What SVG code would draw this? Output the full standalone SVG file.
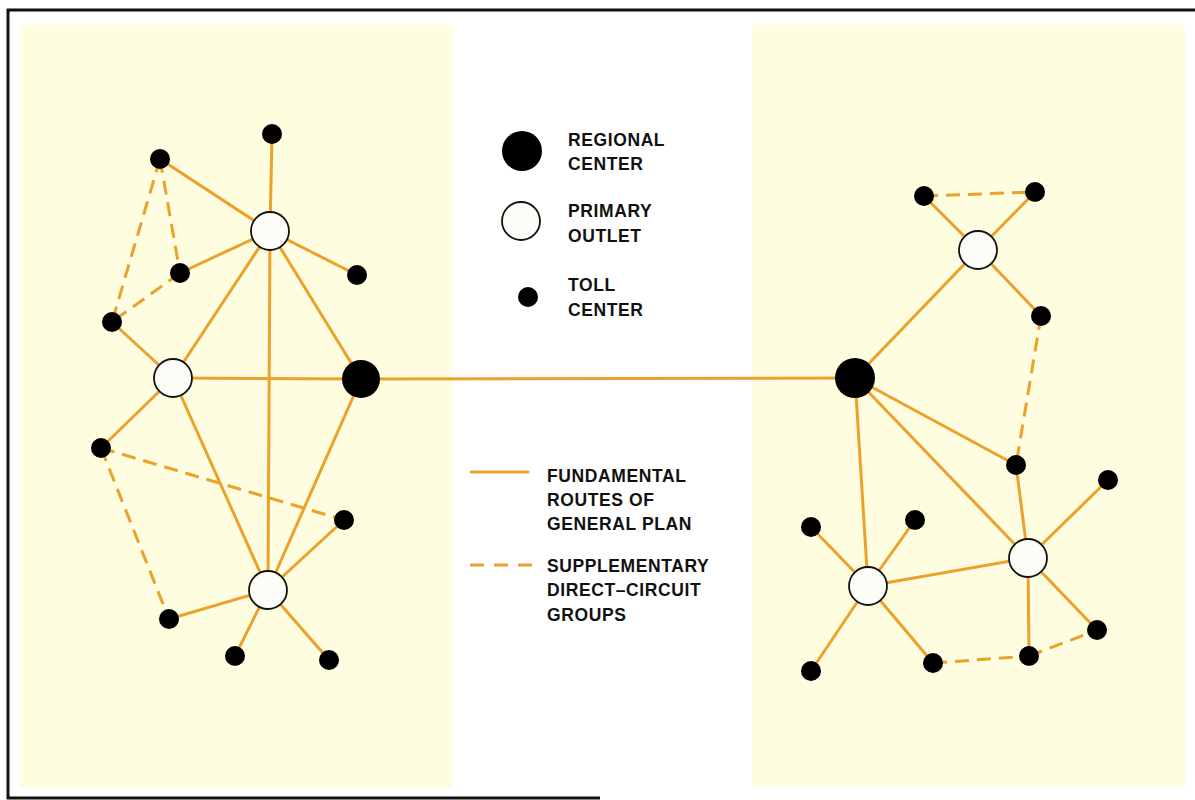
<svg xmlns="http://www.w3.org/2000/svg" width="1195" height="800" viewBox="0 0 1195 800">
<style>
.bg{fill:#ffffff}
.panel{fill:#fffde0}
.frame{stroke:#111;stroke-width:3;fill:none}
.solid{stroke:#eba12a;stroke-width:3;fill:none;stroke-linecap:round}
.dash{stroke:#eba12a;stroke-width:3;fill:none;stroke-dasharray:14 8}
.rc{fill:#000}
.po{fill:#fdfdf8;stroke:#111;stroke-width:1.8}
.tc{fill:#000}
.lbl{font-family:"Liberation Sans",Arial,sans-serif;font-size:17.5px;font-weight:bold;letter-spacing:0.6px;fill:#111}
</style>
<rect class="bg" x="0" y="0" width="1195" height="800"/>
<rect class="panel" x="20" y="25" width="432" height="763"/>
<rect class="panel" x="752" y="25" width="433" height="762"/>
<path class="frame" d="M1195 10 L8 10 L8 798 L600 798"/>

<g id="connectors">
  <!-- left solid -->
  <line class="solid" x1="272" y1="134" x2="270" y2="231"/>
  <line class="solid" x1="160" y1="159" x2="270" y2="231"/>
  <line class="solid" x1="180" y1="273" x2="270" y2="231"/>
  <line class="solid" x1="270" y1="231" x2="357" y2="275"/>
  <line class="solid" x1="270" y1="231" x2="173" y2="378"/>
  <line class="solid" x1="270" y1="231" x2="268" y2="590"/>
  <line class="solid" x1="270" y1="231" x2="361" y2="379"/>
  <line class="solid" x1="173" y1="378" x2="361" y2="379"/>
  <line class="solid" x1="112" y1="322" x2="173" y2="378"/>
  <line class="solid" x1="173" y1="378" x2="101" y2="448"/>
  <line class="solid" x1="173" y1="378" x2="268" y2="590"/>
  <line class="solid" x1="361" y1="379" x2="268" y2="590"/>
  <line class="solid" x1="344" y1="520" x2="268" y2="590"/>
  <line class="solid" x1="169" y1="619" x2="268" y2="590"/>
  <line class="solid" x1="268" y1="590" x2="235" y2="656"/>
  <line class="solid" x1="268" y1="590" x2="329" y2="660"/>
  <!-- trunk -->
  <line class="solid" x1="361" y1="379" x2="855" y2="378"/>
  <!-- left dashed -->
  <line class="dash" x1="160" y1="159" x2="180" y2="273"/>
  <line class="dash" x1="160" y1="159" x2="112" y2="322"/>
  <line class="dash" x1="180" y1="273" x2="112" y2="322"/>
  <line class="dash" x1="101" y1="448" x2="344" y2="520"/>
  <line class="dash" x1="101" y1="448" x2="169" y2="619"/>
  <!-- right solid -->
  <line class="solid" x1="924" y1="196" x2="978" y2="250"/>
  <line class="solid" x1="1035" y1="192" x2="978" y2="250"/>
  <line class="solid" x1="978" y1="250" x2="1041" y2="316"/>
  <line class="solid" x1="978" y1="250" x2="855" y2="378"/>
  <line class="solid" x1="855" y1="378" x2="1016" y2="465"/>
  <line class="solid" x1="855" y1="378" x2="1028" y2="558"/>
  <line class="solid" x1="855" y1="378" x2="868" y2="586"/>
  <line class="solid" x1="1016" y1="465" x2="1028" y2="558"/>
  <line class="solid" x1="1108" y1="480" x2="1028" y2="558"/>
  <line class="solid" x1="868" y1="586" x2="1028" y2="558"/>
  <line class="solid" x1="811" y1="527" x2="868" y2="586"/>
  <line class="solid" x1="915" y1="520" x2="868" y2="586"/>
  <line class="solid" x1="868" y1="586" x2="811" y2="671"/>
  <line class="solid" x1="868" y1="586" x2="933" y2="663"/>
  <line class="solid" x1="1028" y1="558" x2="1029" y2="656"/>
  <line class="solid" x1="1028" y1="558" x2="1097" y2="630"/>
  <!-- right dashed -->
  <line class="dash" x1="924" y1="196" x2="1035" y2="192"/>
  <line class="dash" x1="1041" y1="316" x2="1016" y2="465"/>
  <line class="dash" x1="933" y1="663" x2="1029" y2="656"/>
  <line class="dash" x1="1029" y1="656" x2="1097" y2="630"/>
</g>

<g id="left-regional-center"><circle class="rc" cx="361" cy="379" r="19"/></g>
<g id="left-primary-top"><circle class="po" cx="270" cy="231" r="19"/></g>
<g id="left-primary-mid"><circle class="po" cx="173" cy="378" r="19"/></g>
<g id="left-primary-bottom"><circle class="po" cx="268" cy="590" r="19"/></g>
<g id="left-toll-1"><circle class="tc" cx="272" cy="134" r="10"/></g>
<g id="left-toll-2"><circle class="tc" cx="160" cy="159" r="10"/></g>
<g id="left-toll-3"><circle class="tc" cx="180" cy="273" r="10"/></g>
<g id="left-toll-4"><circle class="tc" cx="357" cy="275" r="10"/></g>
<g id="left-toll-5"><circle class="tc" cx="112" cy="322" r="10"/></g>
<g id="left-toll-6"><circle class="tc" cx="101" cy="448" r="10"/></g>
<g id="left-toll-7"><circle class="tc" cx="344" cy="520" r="10"/></g>
<g id="left-toll-8"><circle class="tc" cx="169" cy="619" r="10"/></g>
<g id="left-toll-9"><circle class="tc" cx="235" cy="656" r="10"/></g>
<g id="left-toll-10"><circle class="tc" cx="329" cy="660" r="10"/></g>

<g id="right-regional-center"><circle class="rc" cx="855" cy="378" r="20"/></g>
<g id="right-primary-top"><circle class="po" cx="978" cy="250" r="19"/></g>
<g id="right-primary-left"><circle class="po" cx="868" cy="586" r="19"/></g>
<g id="right-primary-right"><circle class="po" cx="1028" cy="558" r="19"/></g>
<g id="right-toll-1"><circle class="tc" cx="924" cy="196" r="10"/></g>
<g id="right-toll-2"><circle class="tc" cx="1035" cy="192" r="10"/></g>
<g id="right-toll-3"><circle class="tc" cx="1041" cy="316" r="10"/></g>
<g id="right-toll-4"><circle class="tc" cx="1016" cy="465" r="10"/></g>
<g id="right-toll-5"><circle class="tc" cx="1108" cy="480" r="10"/></g>
<g id="right-toll-6"><circle class="tc" cx="811" cy="527" r="10"/></g>
<g id="right-toll-7"><circle class="tc" cx="915" cy="520" r="10"/></g>
<g id="right-toll-8"><circle class="tc" cx="811" cy="671" r="10"/></g>
<g id="right-toll-9"><circle class="tc" cx="933" cy="663" r="10"/></g>
<g id="right-toll-10"><circle class="tc" cx="1029" cy="656" r="10"/></g>
<g id="right-toll-11"><circle class="tc" cx="1097" cy="630" r="10"/></g>

<g id="legend">
  <circle class="rc" cx="522" cy="151" r="20"/>
  <text class="lbl" x="568" y="146">REGIONAL</text>
  <text class="lbl" x="568" y="170">CENTER</text>
  <circle class="po" cx="521" cy="221" r="19"/>
  <text class="lbl" x="568" y="217">PRIMARY</text>
  <text class="lbl" x="568" y="242">OUTLET</text>
  <circle class="tc" cx="528" cy="297" r="10"/>
  <text class="lbl" x="568" y="291">TOLL</text>
  <text class="lbl" x="568" y="316">CENTER</text>
  <line class="solid" x1="471" y1="472" x2="528" y2="472"/>
  <text class="lbl" x="547" y="482">FUNDAMENTAL</text>
  <text class="lbl" x="547" y="506">ROUTES OF</text>
  <text class="lbl" x="547" y="530">GENERAL PLAN</text>
  <line class="dash" x1="470" y1="565" x2="532" y2="565" style="stroke-dasharray:14 10"/>
  <text class="lbl" x="547" y="572">SUPPLEMENTARY</text>
  <text class="lbl" x="547" y="596">DIRECT–CIRCUIT</text>
  <text class="lbl" x="547" y="621">GROUPS</text>
</g>
</svg>
